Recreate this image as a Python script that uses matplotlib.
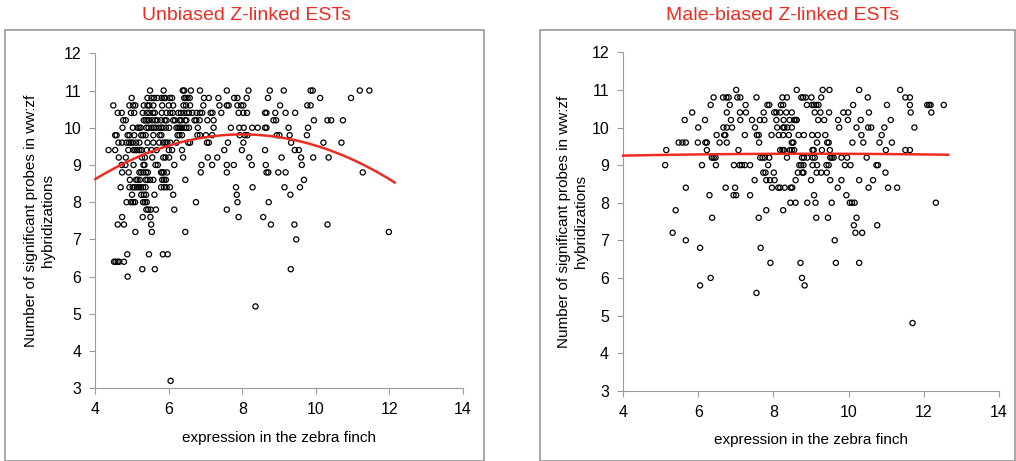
import numpy as np
import matplotlib.pyplot as plt
from matplotlib.patches import Rectangle

plt.rcParams['font.family'] = ['Liberation Sans', 'DejaVu Sans']

X_TICKS = [4, 6, 8, 10, 12, 14]
Y_TICKS = [3, 4, 5, 6, 7, 8, 9, 10, 11, 12]
XLABEL = "expression in the zebra finch"
YLABEL = "Number of significant probes in ww:zf\nhybridizations"

# Unbiased Z-linked ESTs: one list of x values per y level
unb_levels = [11.0, 10.8, 10.6, 10.4, 10.2, 10.0, 9.8, 9.6, 9.4, 9.2, 9.0, 8.8, 8.6,
              8.4, 8.2, 8.0, 7.8, 7.6, 7.4, 7.2, 7.0, 6.6, 6.4, 6.2, 6.0, 5.2, 3.2]
unb_x = [
    [5.49, 5.86, 6.38, 6.42, 6.60, 6.85, 7.58, 8.17, 8.75, 9.13, 9.86, 9.92, 11.20, 11.46],
    [4.99, 5.42, 5.53, 5.60, 5.69, 5.81, 5.87, 5.91, 6.03, 6.09, 6.42, 6.46, 6.51, 6.57,
     6.96, 7.09, 7.35, 7.78, 7.87, 8.12, 8.70, 10.12, 10.96],
    [4.49, 4.93, 5.03, 5.09, 5.32, 5.42, 5.47, 5.58, 5.82, 6.00, 6.12, 6.40, 6.47, 6.58,
     6.94, 7.38, 7.58, 7.63, 7.87, 7.97, 8.03, 9.03, 9.77, 9.86],
    [4.61, 4.72, 4.97, 5.06, 5.29, 5.40, 5.47, 5.57, 5.62, 5.81, 5.94, 6.04, 6.11, 6.26,
     6.33, 6.42, 6.50, 6.55, 6.64, 6.76, 6.85, 6.91, 7.14, 7.19, 7.43, 7.90, 8.03, 8.13,
     8.62, 8.66, 8.90, 9.18, 9.44],
    [4.76, 4.83, 5.32, 5.37, 5.42, 5.46, 5.55, 5.63, 5.69, 5.79, 5.89, 5.94, 6.12, 6.17,
     6.29, 6.34, 6.45, 6.48, 6.70, 6.75, 6.84, 7.05, 7.22, 8.85, 8.92, 9.95, 10.32, 10.42,
     10.74],
    [4.74, 5.02, 5.15, 5.20, 5.24, 5.39, 5.45, 5.53, 5.59, 5.64, 5.73, 5.79, 5.83, 5.92,
     6.01, 6.21, 6.26, 6.30, 6.35, 6.42, 6.48, 6.55, 6.79, 7.22, 7.69, 7.92, 8.04, 8.27,
     8.42, 8.62, 8.66, 9.26, 9.79],
    [4.54, 4.58, 4.88, 4.93, 5.06, 5.25, 5.30, 5.37, 5.58, 5.75, 5.80, 6.24, 6.29, 6.36,
     6.78, 6.85, 7.01, 7.18, 7.93, 8.07, 8.14, 8.94, 9.01, 9.29, 9.76],
    [4.63, 4.73, 4.85, 4.92, 4.97, 5.02, 5.11, 5.20, 5.42, 5.58, 5.74, 5.85, 5.91, 5.96,
     6.04, 6.21, 6.53, 6.58, 7.04, 7.09, 7.61, 8.03, 9.33, 10.21, 10.70],
    [4.36, 4.54, 4.90, 5.04, 5.09, 5.14, 5.20, 5.26, 5.40, 5.53, 5.67, 6.00, 6.09, 6.36,
     7.51, 7.99, 8.62, 9.43, 9.54],
    [4.64, 4.83, 5.27, 5.35, 5.55, 5.85, 5.91, 6.01, 6.39, 7.06, 7.32, 8.19, 9.07, 9.60,
     9.93, 10.35],
    [4.72, 4.82, 5.04, 5.31, 5.34, 5.64, 5.70, 6.15, 6.89, 7.18, 7.58, 7.77, 8.26, 8.64, 9.62],
    [4.73, 4.91, 5.20, 5.25, 5.31, 5.38, 5.43, 5.79, 5.82, 5.86, 5.95, 6.87, 7.58, 8.66,
     8.71, 8.98, 9.18, 11.28],
    [4.94, 5.11, 5.15, 5.21, 5.37, 5.42, 5.49, 5.58, 5.82, 5.87, 5.92, 6.45, 9.68],
    [4.69, 4.93, 5.02, 5.07, 5.13, 5.19, 5.24, 5.30, 5.37, 5.79, 5.87, 5.94, 6.03, 7.83,
     8.28, 9.15, 9.57],
    [5.00, 5.25, 5.32, 5.38, 5.61, 6.12, 7.85, 9.31],
    [4.85, 4.97, 5.03, 5.08, 5.30, 5.35, 5.40, 6.74, 7.87, 8.72],
    [5.39, 5.44, 5.51, 5.65, 6.15, 7.58],
    [4.73, 5.29, 5.50, 7.90, 8.57],
    [4.61, 4.78, 5.52, 8.78, 9.42, 10.32],
    [5.09, 5.54, 6.45, 11.99],
    [9.47],
    [4.87, 5.46, 5.84, 5.97],
    [4.51, 4.55, 4.61, 4.65, 4.78],
    [5.28, 5.62, 9.32],
    [4.88],
    [8.36],
    [6.05],
]

# Male-biased Z-linked ESTs
mb_levels = [11.0, 10.8, 10.6, 10.4, 10.2, 10.0, 9.8, 9.6, 9.4, 9.2, 9.0, 8.8, 8.6,
             8.4, 8.2, 8.0, 7.8, 7.6, 7.4, 7.2, 7.0, 6.8, 6.4, 6.0, 5.8, 5.6, 4.8]
mb_x = [
    [7.01, 8.62, 9.31, 9.49, 10.28, 11.37],
    [6.41, 6.66, 6.75, 6.81, 7.04, 7.12, 7.55, 8.24, 8.36, 8.74, 8.79, 8.86, 9.01, 9.27,
     10.51, 11.51, 11.63],
    [6.33, 6.84, 7.26, 7.84, 7.89, 8.20, 8.26, 8.89, 9.03, 9.08, 9.14, 9.20, 10.12, 11.02,
     11.63, 12.09, 12.14, 12.18, 12.53],
    [5.84, 6.76, 7.11, 7.27, 7.74, 8.02, 8.08, 8.18, 8.34, 8.49, 9.10, 9.25, 9.48, 9.86,
     9.99, 10.54, 11.65, 12.20],
    [5.64, 6.18, 6.87, 7.12, 7.43, 7.64, 7.76, 8.08, 8.27, 8.43, 8.55, 8.59, 8.62, 9.19,
     9.35, 9.72, 9.98, 10.32, 11.12],
    [6.00, 6.67, 6.76, 6.90, 7.51, 8.10, 8.26, 8.29, 8.37, 8.49, 9.75, 10.21, 10.52, 10.60,
     10.95, 11.75],
    [6.49, 6.69, 6.72, 7.24, 7.56, 7.61, 7.95, 8.14, 8.26, 8.41, 8.67, 8.81, 9.03, 9.18,
     9.38, 10.34, 10.88],
    [5.48, 5.58, 5.67, 5.99, 6.19, 6.23, 6.57, 6.76, 7.62, 8.49, 8.53, 9.16, 9.43, 9.47,
     10.10, 10.39, 10.82, 11.15],
    [5.15, 6.23, 7.07, 8.18, 8.24, 8.28, 8.44, 8.49, 8.55, 9.04, 9.07, 9.29, 9.50, 10.99,
     11.51, 11.63],
    [6.36, 6.41, 6.46, 7.65, 7.71, 7.77, 7.89, 8.36, 8.76, 8.81, 8.90, 9.04, 9.10, 9.51,
     9.55, 9.60, 9.81, 9.96, 10.48],
    [5.12, 6.10, 6.47, 6.95, 7.10, 7.16, 7.24, 7.38, 7.86, 8.69, 8.74, 8.80, 9.04, 9.16,
     9.41, 9.47, 9.90, 10.05, 10.74, 10.78],
    [7.73, 7.79, 8.01, 8.65, 8.77, 8.80, 9.15, 9.27, 9.42, 10.98],
    [7.50, 7.81, 7.91, 8.03, 8.59, 9.00, 9.51, 9.81, 10.28, 10.65],
    [5.67, 6.73, 6.98, 7.96, 8.13, 8.18, 8.30, 8.46, 8.50, 9.71, 10.53, 11.05, 11.29],
    [6.30, 6.94, 7.01, 7.38, 9.08, 9.94],
    [8.45, 8.59, 8.90, 9.12, 9.55, 10.03, 10.09, 10.16, 12.32],
    [5.40, 7.81, 8.26],
    [6.37, 7.61, 9.14, 9.45, 10.21],
    [10.14, 10.76],
    [5.32, 10.18, 10.36],
    [5.67, 9.63],
    [6.05, 7.66],
    [7.92, 8.72, 9.66, 10.28],
    [6.33, 8.76],
    [6.05, 8.83],
    [7.55],
    [11.70],
]

# 2nd order polynomial trend lines
unb_trend = [-0.075, 1.2, 5.02]
unb_trend_range = [4.0, 12.15]
mb_trend = [-0.002, 0.036, 9.14]
mb_trend_range = [4.0, 12.65]

RED = '#ec2d24'
GRAY = '#9a9a9a'

fig = plt.figure(figsize=(10.16, 4.61), dpi=100)

# panel frames
fig.add_artist(Rectangle((5 / 1016, 0.5 / 461), 479 / 1016, 430 / 461,
                         transform=fig.transFigure, fill=False, ec=GRAY, lw=1.2))
fig.add_artist(Rectangle((540 / 1016, 0.5 / 461), 475 / 1016, 430 / 461,
                         transform=fig.transFigure, fill=False, ec=GRAY, lw=1.2))

panels = [
    ("Unbiased Z-linked ESTs", unb_levels, unb_x, unb_trend, unb_trend_range,
     [0.0938, 0.1577, 0.3616, 0.7267], 0.243, -0.110),
    ("Male-biased Z-linked ESTs", mb_levels, mb_x, mb_trend, mb_trend_range,
     [0.6132, 0.1525, 0.3701, 0.7340], 0.770, -0.093),
]

for title, levels, xrows, trend, trange, pos, tx, ylx in panels:
    ax = fig.add_axes(pos)
    xs = np.concatenate([np.array(r) for r in xrows])
    ys = np.repeat(levels, [len(r) for r in xrows])
    ax.scatter(xs, ys, s=14, facecolors='none', edgecolors='black', linewidths=0.9,
               zorder=3)
    xt = np.linspace(trange[0], trange[1], 100)
    ax.plot(xt, np.polyval(trend, xt), color=RED, lw=1.8, zorder=4, clip_on=False)

    ax.set_xlim(4, 14)
    ax.set_ylim(3, 12)
    ax.set_xticks(X_TICKS)
    ax.set_yticks(Y_TICKS)
    ax.tick_params(direction='out', length=4, width=0.8, color=GRAY, labelsize=11.5,
                   pad=6)
    for side in ['top', 'right']:
        ax.spines[side].set_visible(False)
    for side in ['left', 'bottom']:
        ax.spines[side].set_color(GRAY)
        ax.spines[side].set_linewidth(0.8)

    ax.set_xlabel(XLABEL, fontsize=11, labelpad=10)
    ax.set_ylabel(YLABEL, fontsize=11, multialignment='center', linespacing=1.3)
    ax.yaxis.set_label_coords(ylx, 0.5)

    fig.text(tx, 0.967, title, color=RED, fontsize=14, ha='center', va='center')

fig.savefig('out.png', dpi=100)
